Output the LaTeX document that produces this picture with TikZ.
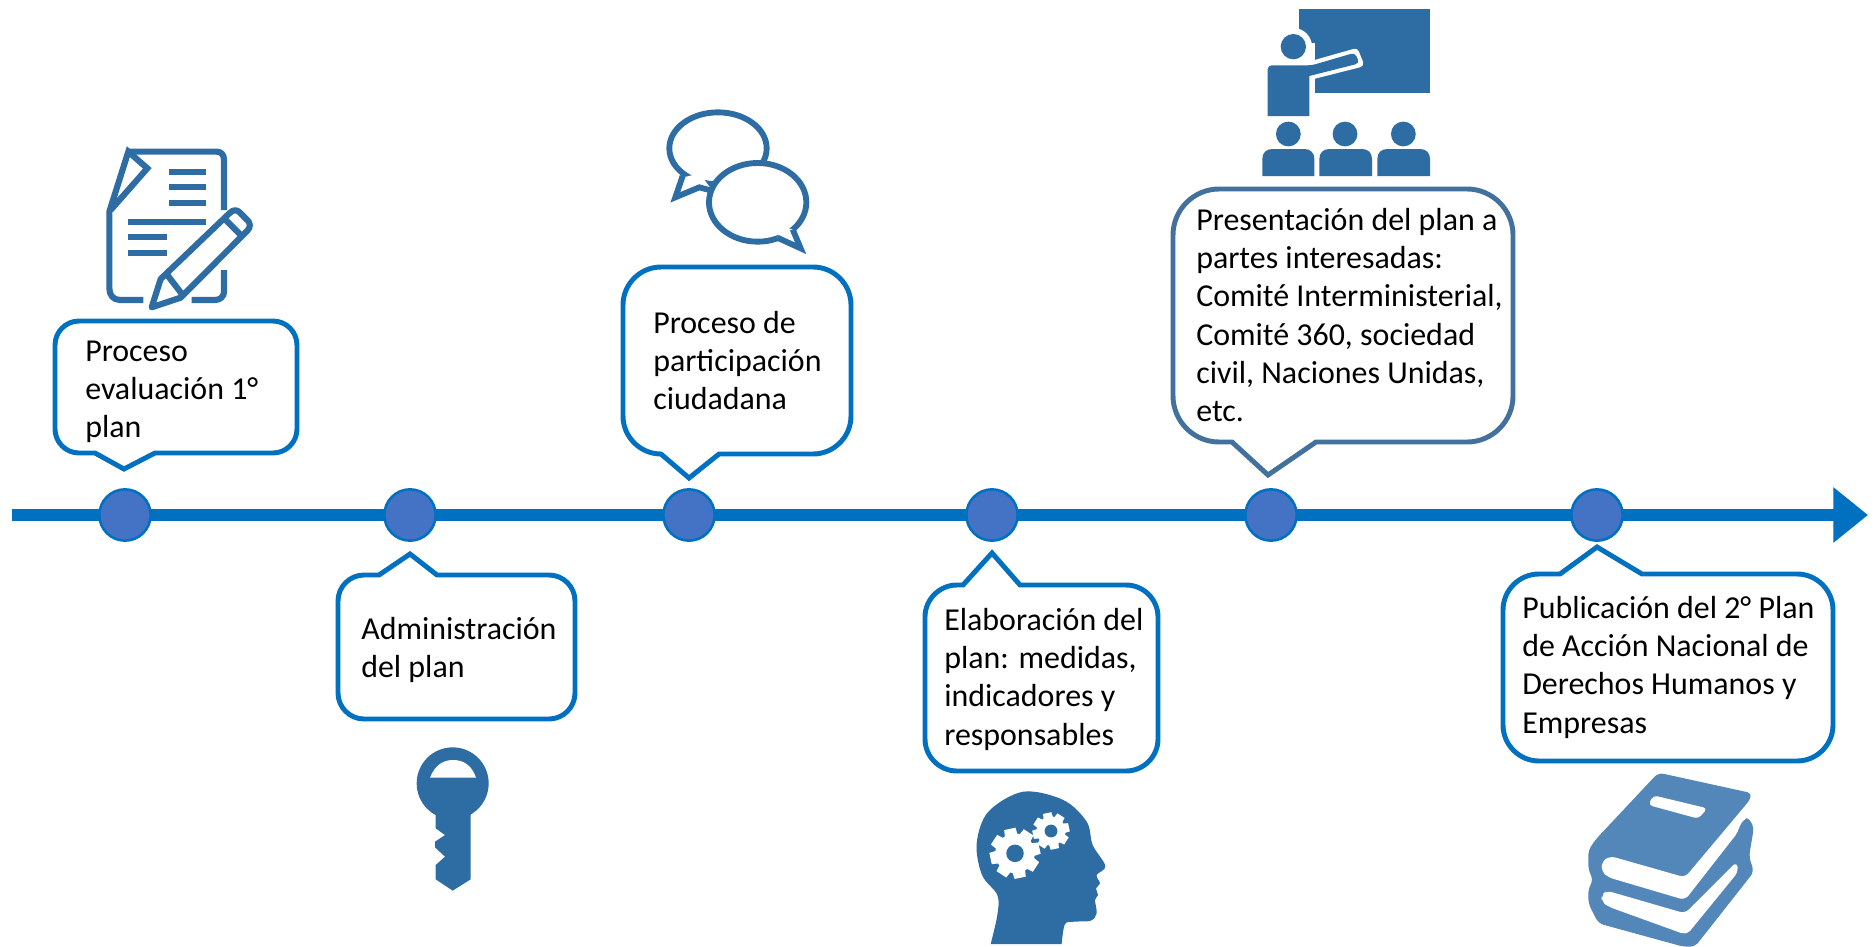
\documentclass[tikz,border=0pt]{standalone}
\usepackage{fontspec}
\setmainfont{Carlito}
\usetikzlibrary{arrows.meta}
\definecolor{axisblue}{HTML}{0070C0}
\definecolor{dotblue}{HTML}{4472C4}
\definecolor{darkbox}{HTML}{41719C}
\definecolor{icon}{HTML}{2E6DA4}
\definecolor{bookc}{HTML}{5487B9}
\tikzset{
  axisline/.style={line width=9pt,axisblue,-{Triangle[length=26pt,width=40pt]}},
  dot/.style={circle,draw=axisblue,line width=1.9pt,fill=dotblue,minimum size=38.5pt,inner sep=0pt},
  callout/.style={draw=axisblue,line width=3.7pt,fill=white,line join=miter},
  calloutdark/.style={callout,draw=darkbox},
  txt/.style={anchor=north west,inner sep=0pt,align=left,yshift=20pt,font=\fontsize{23.95pt}{28.75pt}\selectfont,text=black},
  zoomed/.style={x=.25pt,y=-.25pt,line cap=butt},
  docstroke/.style={draw=icon,line width=4.6pt},
}
\newcommand{\fs}{\rule{0pt}{20pt}}
% style l t r b R, top pointer segments, bottom pointer segments
\newcommand{\rbox}[8]{%
  \path[#1] ({#2+#6},#3) #7 -- ({#4-#6},#3)
    .. controls ({#4-.45*#6},#3) and (#4,{#3+.45*#6}) .. (#4,{#3+#6})
    -- (#4,{#5-#6})
    .. controls (#4,{#5-.45*#6}) and ({#4-.45*#6},#5) .. ({#4-#6},#5)
    #8 -- ({#2+#6},#5)
    .. controls ({#2+.45*#6},#5) and (#2,{#5-.45*#6}) .. (#2,{#5-#6})
    -- (#2,{#3+#6})
    .. controls (#2,{#3+.45*#6}) and ({#2+.45*#6},#3) .. ({#2+#6},#3) -- cycle;}
\newcommand{\gearshape}[3]{% cx cy R (zoom px)
  \begin{scope}[shift={(#1,#2)}]
    \foreach \a in {0,45,...,315}{
      \fill[white,rotate=\a+12] (-#3*.33,0) -- (-#3*.23,#3) -- (#3*.23,#3) -- (#3*.33,0) -- cycle;
    }
    \fill[white] (0,0) circle[radius=#3*.1975pt];
    \fill[icon] (0,0) circle[radius=#3*.0875pt];
  \end{scope}}
\begin{document}
\begin{tikzpicture}[x=.75pt,y=-.75pt]
\clip (0,0) rectangle (1876,946);
\fill[white] (0,0) rectangle (1876,946);

% axis
\coordinate (axisstart) at (12,515);
\coordinate (axisend) at (1868,515);
\draw[axisline] (axisstart) -- (axisend);
\node[dot] (d1) at (125,515) {};
\node[dot] (d2) at (410,515) {};
\node[dot] (d3) at (689,515) {};
\node[dot] (d4) at (992,515) {};
\node[dot] (d5) at (1271,515) {};
\node[dot] (d6) at (1597,515) {};

% callouts
\rbox{callout}{55}{321}{297}{453}{24}{}{-- (155,453) -- (124,469) -- (95,453)}
\rbox{callout}{338}{575}{575}{719}{26}{-- (379,575) -- (410,554) -- (437,575)}{}
\rbox{callout}{623}{267}{851}{454}{38}{}{-- (719,454) -- (689,478) -- (661,454)}
\rbox{callout}{925}{585}{1158}{771}{32}{-- (963,585) -- (992,553) -- (1020,585)}{}
\rbox{calloutdark}{1173}{189}{1513}{442}{46}{}{-- (1316,442) -- (1268,475) -- (1232,442)}
\rbox{callout}{1503}{574}{1833}{761}{36}{-- (1560,574) -- (1597,547) -- (1642,574)}{}

% texts
\node[txt] (t1) at (85,361) {\fs Proceso\\evaluación 1°\\plan};
\node[txt] (t2) at (361,639) {\fs Administración\\del plan};
\node[txt] (t3) at (653,333) {\fs Proceso de\\participación\\ciudadana};
\node[txt] (t4) at (944,630) {\fs Elaboración del\\plan: medidas,\\indicadores y\\responsables};
\node[txt] (t5) at (1196,230) {\fs Presentación del plan a\\partes interesadas:\\Comité Interministerial,\\Comité 360, sociedad\\civil, Naciones Unidas,\\etc.};
\node[txt] (t6) at (1522,618) {\fs Publicación del 2° Plan\\de Acción Nacional de\\Derechos Humanos y\\Empresas};

% document icon
\begin{scope}[shift={(40,130)},zoomed]
  \draw[docstroke,line join=round] (265,65) -- (530,65) .. controls (545,65) and (552,75) .. (552,90) -- (552,240);
  \draw[docstroke] (552,420) -- (552,485) .. controls (552,500) and (540,510) .. (525,510) -- (455,510);
  \draw[docstroke] (310,510) -- (240,510) .. controls (220,510) and (208,495) .. (208,475) -- (208,245) -- (265,65) -- (322,115) -- (212,240);
  \foreach \ya/\xa/\xb in {125/388/498,172/388/498,220/388/498,275/265/498,322/265/382,370/265/382}
    \draw[docstroke] (\xa,\ya) -- (\xb,\ya);
  \draw[docstroke,fill=white,line join=round] (335,532) -- (362,447) -- (568,250) .. controls (580,238) and (590,238) .. (600,248) -- (622,270) .. controls (632,280) and (632,292) .. (622,302) -- (422,503) -- cycle;
  \draw[docstroke] (552,265) -- (607,320);
  \draw[docstroke] (382,435) -- (428,495);
\end{scope}

% speech bubbles
\begin{scope}[shift={(640,90)},zoomed]
  \draw[draw=icon,line width=4.4pt,fill=white] (234,175) ellipse[x radius=36.5pt,y radius=27pt];
  \fill[white] (130,262) -- (98,330) -- (178,292) -- (215,300) -- (180,250) -- cycle;
  \draw[draw=icon,line width=4.4pt,line join=miter] (128,258) -- (106,322) -- (178,292) -- (215,302);
  \draw[draw=icon,line width=4.4pt,fill=white] (353,337) ellipse[x radius=36.5pt,y radius=29.5pt];
  \fill[white] (412,445) -- (492,482) -- (458,418) -- (420,410) -- cycle;
  \draw[draw=icon,line width=4.4pt,line join=miter] (412,443) -- (482,475) -- (458,418);
\end{scope}

% classroom icon
\begin{scope}[shift={(1230,0)},zoomed]
  \fill[icon] (207,28) rectangle (600,278);
  \fill[white] (195,130) rectangle (254,280);
  \fill[white] (190,140) circle[radius=14pt];
  \fill[icon] (190,140) circle[radius=9.5pt];
  \draw[white,line width=6pt,line join=round] (245,195) -- (375,158) -- (388,190) -- (238,228);
  \fill[icon,rounded corners=3pt] (113,348) -- (113,196) -- (245,196) -- (375,158) -- (388,190) [sharp corners] -- (238,228) -- (238,348) -- cycle;
  \foreach \hx/\bl/\br in {175/97/253,345/268/426,520/442/600}{
    \fill[icon] (\hx,402) circle[radius=9.3pt];
    \fill[icon] (\bl,528) -- (\bl,477) .. controls (\bl,458) and ({\bl+12},447) .. ({\bl+30},447) -- ({\br-30},447) .. controls ({\br-12},447) and (\br,458) .. (\br,477) -- (\br,528) -- cycle;
  }
\end{scope}

% key icon
\begin{scope}[shift={(380,730)},zoomed]
  \fill[icon] (218,160) circle[radius=27pt];
  \fill[icon] (167,240) -- (272,240) -- (272,448) -- (218,482) -- (167,448) -- (167,405) -- (195,380) -- (165,352) -- (165,335) -- (195,315) -- (167,295) -- cycle;
  \fill[white] (150,143) .. controls (165,105) and (190,90) .. (219,90) .. controls (250,90) and (275,105) .. (288,143) -- cycle;
\end{scope}

% head icon
\begin{scope}[shift={(960,780)},zoomed]
  \fill[icon] plot[smooth,tension=.55] coordinates {(92,492) (112,405) (112,345) (66,285) (50,190) (85,95) (190,35) (310,60) (380,125) (398,195) (436,258) (410,285) (420,310) (408,325) (414,345) (405,360) (410,400) (392,422) (345,425) (315,432) (305,492)} -- cycle;
  \gearshape{165}{220}{75}
  \gearshape{273}{153}{55}
\end{scope}

% books icon
\begin{scope}[shift={(1570,760)},zoomed]
  \fill[bookc,rounded corners=4pt] (265,38) -- (548,100) -- (510,172) -- (532,170) -- (552,200) -- (537,290) -- (552,335) -- (375,560) -- (340,560) -- (85,490) -- (55,430) -- (55,385) -- (70,360) -- (55,330) -- (55,270) -- (80,235) -- cycle;
  \fill[white,rounded corners=4pt] (120,288) -- (345,352) -- (550,108) -- (560,150) -- (510,190) -- (505,215) -- (345,420) -- (115,352) -- (95,335) -- (95,305) -- cycle;
  \fill[white,rounded corners=4pt] (110,392) -- (345,460) -- (500,305) -- (505,335) -- (350,525) -- (115,440) -- (95,425) -- (95,405) -- cycle;
  \fill[white,rounded corners=3pt] (250,106) -- (412,145) -- (385,176) -- (235,135) -- cycle;
\end{scope}
\end{tikzpicture}
\end{document}
